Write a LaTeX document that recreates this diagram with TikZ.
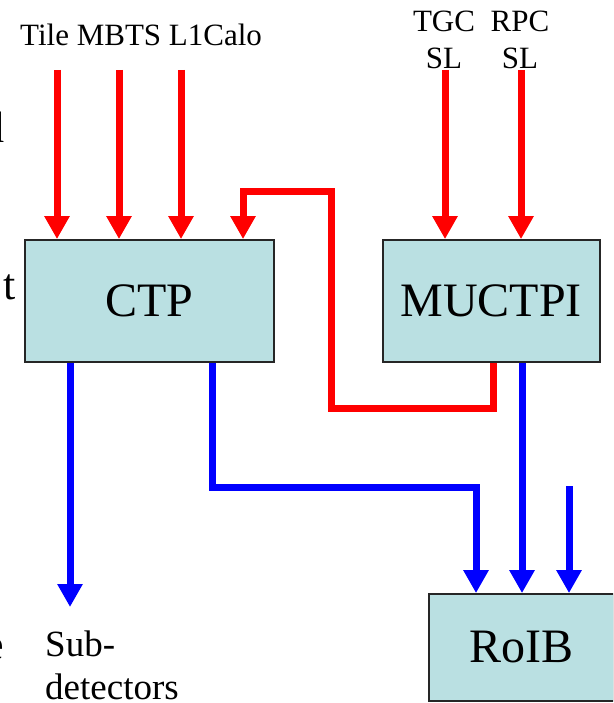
\documentclass[tikz,border=0pt]{standalone}
\usepackage{fontspec}
\setmainfont{Liberation Serif}
\usetikzlibrary{positioning, arrows.meta}
\definecolor{boxteal}{RGB}{186,224,226}
\definecolor{sigred}{RGB}{255,0,0}
\definecolor{roiblue}{RGB}{0,0,255}

\begin{document}
\begin{tikzpicture}[x=1pt, y=-1pt,
  unit/.style={draw=black!85, line width=1.8pt, fill=boxteal, inner sep=0pt, font=\fontsize{48}{56}\selectfont},
  lbl/.style={inner sep=0pt, font=\fontsize{31}{37}\selectfont},
  sidelbl/.style={inner sep=0pt, font=\fontsize{37}{43}\selectfont},
  cutlbl/.style={inner sep=0pt, anchor=base east, font=\fontsize{44}{50}\selectfont},
  redarr/.style={-{Triangle[width=24pt,length=23pt]}, line width=7pt, color=sigred},
  bluearr/.style={-{Triangle[width=24pt,length=23pt]}, line width=7pt, color=roiblue}]
  \useasboundingbox (0,0) rectangle (613,703);
  \clip (0,0) rectangle (613,703);
  \node[unit, minimum width=249pt, minimum height=122pt] (ctp) at (149.5,301) {CTP};
  \node[unit, minimum width=217pt, minimum height=122pt, right=107pt of ctp] (muctpi) {MUCTPI};
  \node[unit, minimum width=185pt, minimum height=107pt] (roib) at (521.5,647.5) {RoIB};

  \node[lbl, anchor=base west] (calo) at (20,46) {Tile MBTS L1Calo};
  \node[lbl, anchor=north, align=center] (tgc) at (444,11) {TGC\\SL};
  \node[lbl, anchor=north, align=center] (rpc) at (520,11) {RPC\\SL};
  \node[sidelbl, anchor=north west, align=left] (subdet) at (45,631) {Sub-\\detectors};
  \node[cutlbl] (frag-d) at (5,143) {d};
  \node[cutlbl] (frag-t) at (15.5,299) {t};
  \node[cutlbl] (frag-e) at (4.5,659) {e};

  \coordinate (tile-in) at (57,70);
  \coordinate (mbts-in) at (119,70);
  \coordinate (calo-in) at (181,70);
  \coordinate (tgc-in) at (445,70);
  \coordinate (rpc-in) at (521,70);
  \coordinate (fb-low) at (493,408);
  \coordinate (fb-high) at (331,192);
  \coordinate (fb-in) at (243,192);
  \coordinate (sd-out) at (70,607);
  \coordinate (ctp-roi) at (212,487);
  \coordinate (ctp-roi-in) at (476,487);
  \coordinate (mu-roi) at (522,400);
  \coordinate (ext-roi) at (569,486);

  \draw[redarr] (tile-in) -- (tile-in |- ctp.north);
  \draw[redarr] (mbts-in) -- (mbts-in |- ctp.north);
  \draw[redarr] (calo-in) -- (calo-in |- ctp.north);
  \draw[redarr] (tgc-in) -- (tgc-in |- muctpi.north);
  \draw[redarr] (rpc-in) -- (rpc-in |- muctpi.north);
  \draw[redarr] (fb-low |- muctpi.south) -- (fb-low) -| (fb-high) -- (fb-in) -- (fb-in |- ctp.north);

  \draw[bluearr] (sd-out |- ctp.south) -- (sd-out);
  \draw[bluearr] (ctp-roi |- ctp.south) -- (ctp-roi) -- (ctp-roi-in) -- (ctp-roi-in |- roib.north);
  \draw[bluearr] (mu-roi |- muctpi.south) -- (mu-roi |- roib.north);
  \draw[bluearr] (ext-roi) -- (ext-roi |- roib.north);
\end{tikzpicture}
\end{document}
